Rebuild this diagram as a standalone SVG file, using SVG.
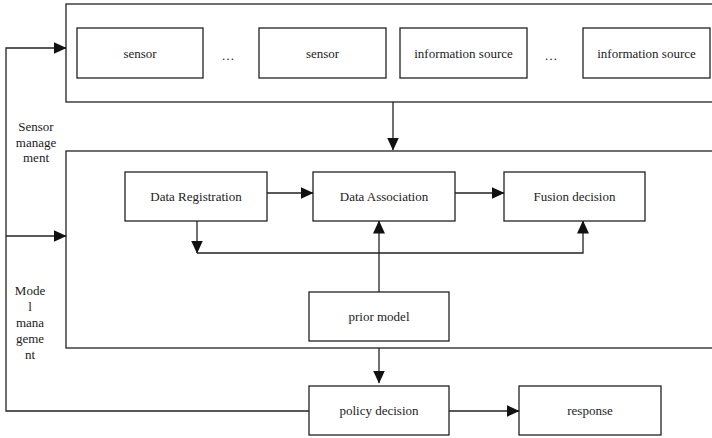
<svg xmlns="http://www.w3.org/2000/svg" width="712" height="438" viewBox="0 0 712 438">
  <style>
    .box { fill: #fff; stroke: #222; stroke-width: 1.3; }
    .frame { fill: none; stroke: #222; stroke-width: 1.3; }
    .lbl { font-family: "Liberation Serif", "Times New Roman", "DejaVu Serif", serif; font-size: 13px; fill: #222; text-anchor: middle; }
    .wire { fill: none; stroke: #222; stroke-width: 1.3; }
  </style>
  <defs>
    <marker id="arr" markerWidth="13" markerHeight="12" refX="12.5" refY="6" orient="auto" markerUnits="userSpaceOnUse">
      <path d="M0,0 L13,6 L0,12 Z" fill="#111"/>
    </marker>
  </defs>
  <rect width="712" height="438" fill="#fff"/>

  <!-- source layer frame -->
  <g id="sources">
    <rect class="frame" x="66" y="4" width="660" height="98"/>
  </g>
  <g id="sensor1">
    <rect class="box" x="77" y="28" width="126" height="50"/>
    <text class="lbl" x="140" y="58">sensor</text>
  </g>
  <text class="lbl" x="228" y="60">…</text>
  <g id="sensor2">
    <rect class="box" x="259" y="28" width="127" height="50"/>
    <text class="lbl" x="322.5" y="58">sensor</text>
  </g>
  <g id="info1">
    <rect class="box" x="400" y="28" width="127" height="50"/>
    <text class="lbl" x="463.5" y="58">information source</text>
  </g>
  <text class="lbl" x="551" y="60">…</text>
  <g id="info2">
    <rect class="box" x="583" y="28" width="127" height="50"/>
    <text class="lbl" x="646.5" y="58">information source</text>
  </g>

  <!-- fusion layer frame -->
  <g id="fusion">
    <rect class="frame" x="66" y="151" width="660" height="197"/>
  </g>
  <g id="registration">
    <rect class="box" x="125" y="172" width="142" height="49"/>
    <text class="lbl" x="196" y="201">Data Registration</text>
  </g>
  <g id="association">
    <rect class="box" x="313" y="172" width="142" height="49"/>
    <text class="lbl" x="384" y="201">Data Association</text>
  </g>
  <g id="decision">
    <rect class="box" x="504" y="172" width="141" height="49"/>
    <text class="lbl" x="574.5" y="201">Fusion decision</text>
  </g>
  <g id="prior">
    <rect class="box" x="309" y="292" width="140" height="49"/>
    <text class="lbl" x="379" y="321">prior model</text>
  </g>
  <g id="policy">
    <rect class="box" x="309" y="386" width="140" height="49"/>
    <text class="lbl" x="379" y="415">policy decision</text>
  </g>
  <g id="response">
    <rect class="box" x="519" y="386" width="142" height="49"/>
    <text class="lbl" x="590" y="415">response</text>
  </g>

  <!-- side labels -->
  <g id="sensor-management">
    <text class="lbl" x="36" y="131">Sensor</text>
    <text class="lbl" x="36" y="147">manage</text>
    <text class="lbl" x="36" y="162">ment</text>
  </g>
  <g id="model-management">
    <text class="lbl" x="30" y="295">Mode</text>
    <text class="lbl" x="30" y="311">l</text>
    <text class="lbl" x="30" y="327">mana</text>
    <text class="lbl" x="30" y="343">geme</text>
    <text class="lbl" x="30" y="359">nt</text>
  </g>

  <g id="connectors">
    <path class="wire" d="M393,102 V150" marker-end="url(#arr)"/>
    <path class="wire" d="M267,193 H313" marker-end="url(#arr)"/>
    <path class="wire" d="M455,193 H504" marker-end="url(#arr)"/>
    <path class="wire" d="M197,221 V253" marker-end="url(#arr)"/>
    <path class="wire" d="M197,253 H583 V221" marker-end="url(#arr)"/>
    <path class="wire" d="M379,292 V221" marker-end="url(#arr)"/>
    <path class="wire" d="M379,348 V383" marker-end="url(#arr)"/>
    <path class="wire" d="M449,411 H519" marker-end="url(#arr)"/>
    <path class="wire" d="M309,411 H6 V48 H66" marker-end="url(#arr)"/>
    <path class="wire" d="M6,236 H66" marker-end="url(#arr)"/>
  </g>
</svg>
